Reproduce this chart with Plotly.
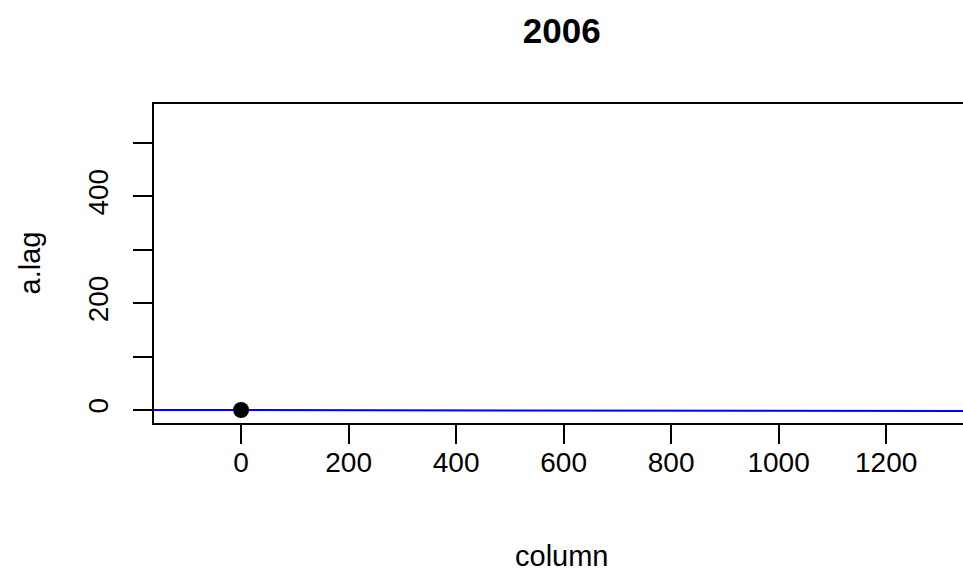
import plotly.graph_objects as go

# Observed lag points
column = [0]
a_lag = [0]

# Fitted line: a.lag = intercept + slope * column
intercept = 0.0
slope = -0.0014

x_ticks = [0, 200, 400, 600, 800, 1000, 1200]
y_ticks = [0, 100, 200, 300, 400, 500]
y_tick_text = ["0", "", "200", "", "400", ""]

x_range = [-162, 1343]
y_range = [-24.3, 573]

font_family = "Liberation Sans, Arial, sans-serif"

fig = go.Figure()

line_x = [x_range[0] - 50, x_range[1] + 50]
line_y = [intercept + slope * v for v in line_x]
fig.add_trace(go.Scatter(
    x=line_x, y=line_y, mode="lines",
    line=dict(color="#0000ff", width=2),
    hoverinfo="skip", showlegend=False,
))

fig.add_trace(go.Scatter(
    x=column, y=a_lag, mode="markers",
    marker=dict(color="black", size=16),
    showlegend=False,
))

fig.update_layout(
    width=963, height=574,
    margin=dict(l=154, r=0, t=104, b=151),
    paper_bgcolor="white", plot_bgcolor="white",
    font=dict(family=font_family, color="black", size=28),
    title=dict(
        text="<b>2006</b>", x=0.504, xref="paper", xanchor="center",
        y=1 - 31 / 574, yref="container", yanchor="middle",
        font=dict(size=35, family=font_family, color="black"),
    ),
    xaxis=dict(
        range=x_range, tickvals=x_ticks, ticks="outside", ticklen=19,
        tickwidth=2, tickcolor="black", showline=True, linecolor="black",
        linewidth=2, mirror=True, showgrid=False, zeroline=False,
        ticklabelstandoff=-6, tickfont=dict(size=28),
    ),
    yaxis=dict(
        range=y_range, tickvals=y_ticks, ticktext=y_tick_text,
        ticks="outside", ticklen=19, tickwidth=2, tickcolor="black",
        showline=True, linecolor="black", linewidth=2, mirror=False,
        showgrid=False, zeroline=False, tickangle=-90,
        ticklabelstandoff=14, tickfont=dict(size=28),
    ),
    annotations=[
        dict(text="column", xref="paper", yref="paper", x=0.504,
             y=-(556 - 423) / 319, showarrow=False, xanchor="center",
             yanchor="middle", font=dict(size=29)),
        dict(text="a.lag", xref="paper", yref="paper",
             x=(29 - 154) / 809, y=0.5, showarrow=False, textangle=-90,
             xanchor="center", yanchor="middle", font=dict(size=29)),
    ],
)

fig.write_html("out.html")
